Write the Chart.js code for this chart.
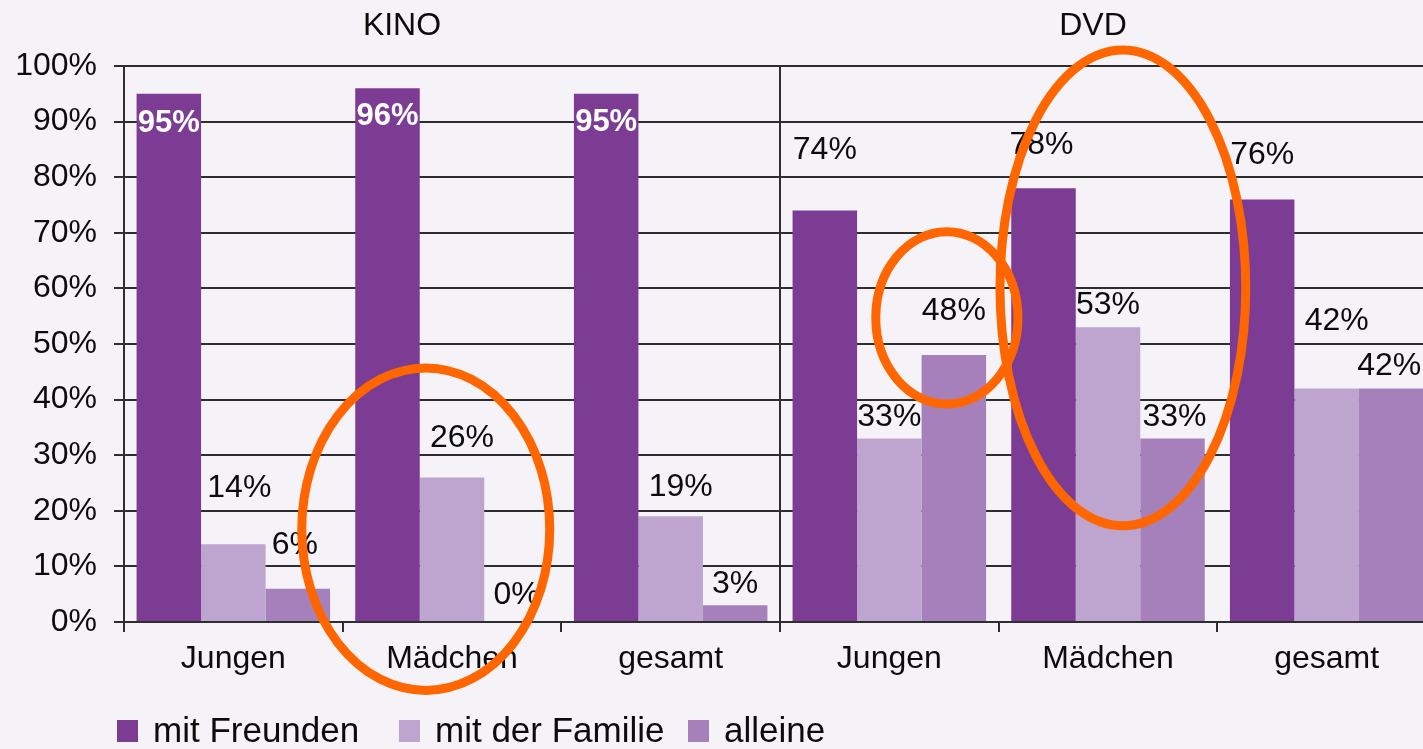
<!DOCTYPE html>
<html>
<head>
<meta charset="utf-8">
<title>KINO / DVD</title>
<script src="https://cdn.jsdelivr.net/npm/chart.js@4/dist/chart.umd.min.js"></script>
<style>
  html, body { margin: 0; padding: 0; overflow: hidden; background: #F5F3F8; }
  body { width: 1423px; height: 749px; position: relative; font-family: "Liberation Sans", Arial, sans-serif; color: #0c0c0c; }
  #wrap { position: absolute; left: 0; top: 0; width: 1440px; height: 749px; }
  .group-title { position: absolute; top: 6px; font-size: 32px; transform: translateX(-50%); white-space: nowrap; }
  #legend { position: absolute; left: 0; top: 710px; width: 1423px; height: 39px; }
  .lg-item { position: absolute; top: 0; height: 39px; display: flex; align-items: center; font-size: 35px; white-space: nowrap; }
  .lg-box { width: 21px; height: 22px; margin-right: 15px; margin-top: 2px; }
</style>
</head>
<body>
<div id="wrap"><canvas id="chart"></canvas></div>
<div class="group-title" style="left:402px">KINO</div>
<div class="group-title" style="left:1093px">DVD</div>
<div id="legend"></div>
<script>
// --- data ---
const categories = ["Jungen", "Mädchen", "gesamt", "Jungen", "Mädchen", "gesamt"];
const seriesNames = ["mit Freunden", "mit der Familie", "alleine"];
const mitFreunden = [95, 96, 95, 74, 78, 76];
const mitFamilie = [14, 26, 19, 33, 53, 42];
const alleine = [6, 0, 3, 48, 33, 42];
const yTicks = [0, 10, 20, 30, 40, 50, 60, 70, 80, 90, 100];

// --- styling ---
const FONT = '"Liberation Sans", Arial, sans-serif';
const colors = ["#7D3C93", "#BDA5CF", "#A580BA"];
const gridColor = "#2e2e2e";
const textColor = "#0c0c0c";

// label shifts [dx, dy] from the top centre of each bar (pixels)
const labelShift = [
  [[0, 30], [0, 28], [0, 29], [0, -60], [-2, -43], [0, -44]],
  [[6, -56], [10, -39], [10, -29], [0, -21], [0, -22], [10, -67]],
  [[-3, -43], [0, -27], [0, -21], [0, -44], [2, -21], [-2, -22]]
];

// hand-drawn orange rings: [category index, value %, radius in categories, radius in %]
const rings = [
  [0.88, 16.7, 0.567, 29],
  [3.263, 54.7, 0.325, 15.5],
  [4.068, 60.1, 0.562, 42.8]
];

const valueLabels = {
  id: "valueLabels",
  afterDatasetsDraw(chart) {
    const ctx = chart.ctx;
    ctx.save();
    ctx.textAlign = "center";
    ctx.textBaseline = "middle";
    chart.data.datasets.forEach((ds, di) => {
      chart.getDatasetMeta(di).data.forEach((bar, i) => {
        const inside = di === 0 && i < 3;
        ctx.font = (inside ? "bold 31px " : "32px ") + FONT;
        ctx.fillStyle = inside ? "#FFFFFF" : textColor;
        const s = labelShift[di][i];
        ctx.fillText(ds.data[i] + "%", bar.x + s[0], bar.y + s[1]);
      });
    });
    ctx.restore();
  }
};

const ringPlugin = {
  id: "rings",
  afterDraw(chart) {
    const ctx = chart.ctx;
    const xs = chart.scales.x, ys = chart.scales.y;
    const catW = (xs.right - xs.left) / categories.length;
    ctx.save();
    ctx.strokeStyle = "#FF6600";
    ctx.lineWidth = 9;
    rings.forEach(r => {
      const cx = xs.left + (r[0] + 0.5) * catW;
      const cy = ys.getPixelForValue(r[1]);
      const rx = r[2] * catW;
      const ry = Math.abs(ys.getPixelForValue(0) - ys.getPixelForValue(r[3]));
      ctx.beginPath();
      ctx.ellipse(cx, cy, rx, ry, 0, 0, Math.PI * 2);
      ctx.stroke();
    });
    ctx.restore();
  }
};

const datasets = [mitFreunden, mitFamilie, alleine].map((d, i) => ({
  label: seriesNames[i],
  data: d,
  backgroundColor: colors[i],
  borderWidth: 0,
  categoryPercentage: 0.885,
  barPercentage: 1.0
}));

new Chart(document.getElementById("chart"), {
  type: "bar",
  data: { labels: categories, datasets: datasets },
  options: {
    responsive: true,
    maintainAspectRatio: false,
    animation: false,
    layout: { padding: { top: 66, right: 4, left: 0, bottom: 0 } },
    plugins: { legend: { display: false }, tooltip: { enabled: false } },
    scales: {
      x: {
        grid: {
          offset: true,
          color: c => (c.index === 3 ? gridColor : "rgba(0,0,0,0)"),
          lineWidth: 2,
          tickLength: 10,
          tickColor: gridColor,
          tickWidth: 2
        },
        border: { color: gridColor, width: 2 },
        ticks: { font: { family: FONT, size: 32 }, color: textColor, padding: 8, maxRotation: 0, autoSkip: false },
        afterFit: s => { s.height = 127; }
      },
      y: {
        min: 0,
        max: 100,
        afterBuildTicks: s => { s.ticks = yTicks.map(v => ({ value: v })); },
        grid: { color: gridColor, lineWidth: 2, tickLength: 10, tickColor: gridColor },
        border: { color: gridColor, width: 2 },
        ticks: { font: { family: FONT, size: 32 }, color: textColor, padding: 17, callback: v => v + "%" },
        afterFit: s => { s.width = 124; }
      }
    }
  },
  plugins: [valueLabels, ringPlugin]
});

// legend
const legendLeft = [117, 399, 688];
const legend = document.getElementById("legend");
seriesNames.forEach((name, i) => {
  const item = document.createElement("div");
  item.className = "lg-item";
  item.style.left = legendLeft[i] + "px";
  const box = document.createElement("span");
  box.className = "lg-box";
  box.style.background = colors[i];
  const txt = document.createElement("span");
  txt.textContent = name;
  item.appendChild(box);
  item.appendChild(txt);
  legend.appendChild(item);
});
</script>
</body>
</html>
